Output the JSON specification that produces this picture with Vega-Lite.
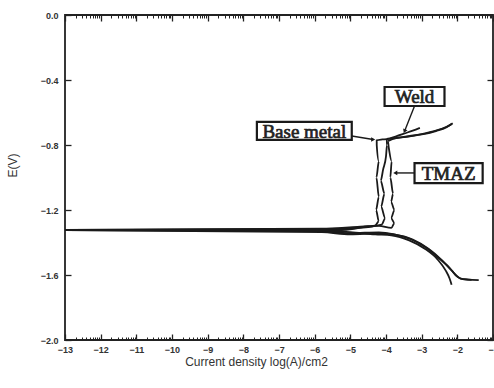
{
  "$schema": "https://vega.github.io/schema/vega-lite/v6.json",
  "width": 428,
  "height": 325,
  "autosize": {"type": "none"},
  "padding": {"left": 65, "top": 15, "right": 1, "bottom": 48},
  "background": "white",
  "config": {
    "view": {"stroke": "#222", "strokeWidth": 1.8},
    "axis": {"grid": false, "domain": false, "tickColor": "#222", "tickWidth": 1.3, "labelFont": "Liberation Sans", "titleFont": "Liberation Sans", "labelColor": "#333", "titleColor": "#333"}
  },
  "datasets": {
    "curves": [
      {"s": "Base metal", "i": 1, "x": -1.4, "y": -1.632},
      {"s": "Base metal", "i": 2, "x": -1.7, "y": -1.628},
      {"s": "Base metal", "i": 3, "x": -1.9, "y": -1.622},
      {"s": "Base metal", "i": 4, "x": -2.05, "y": -1.6},
      {"s": "Base metal", "i": 5, "x": -2.2, "y": -1.56},
      {"s": "Base metal", "i": 6, "x": -2.5, "y": -1.5},
      {"s": "Base metal", "i": 7, "x": -2.85, "y": -1.435},
      {"s": "Base metal", "i": 8, "x": -3.3, "y": -1.38},
      {"s": "Base metal", "i": 9, "x": -3.8, "y": -1.348},
      {"s": "Base metal", "i": 10, "x": -4.2, "y": -1.338},
      {"s": "Base metal", "i": 11, "x": -5.0, "y": -1.342},
      {"s": "Base metal", "i": 12, "x": -6.0, "y": -1.33},
      {"s": "Base metal", "i": 13, "x": -13, "y": -1.324},
      {"s": "Base metal", "i": 14, "x": -6.0, "y": -1.318},
      {"s": "Base metal", "i": 15, "x": -5.0, "y": -1.312},
      {"s": "Base metal", "i": 16, "x": -4.5, "y": -1.306},
      {"s": "Base metal", "i": 17, "x": -4.3, "y": -1.295},
      {"s": "Base metal", "i": 18, "x": -4.2, "y": -1.27},
      {"s": "Base metal", "i": 19, "x": -4.28, "y": -1.2},
      {"s": "Base metal", "i": 20, "x": -4.2, "y": -1.12},
      {"s": "Base metal", "i": 21, "x": -4.27, "y": -1.0},
      {"s": "Base metal", "i": 22, "x": -4.2, "y": -0.9},
      {"s": "Base metal", "i": 23, "x": -4.26, "y": -0.8},
      {"s": "Base metal", "i": 24, "x": -4.26, "y": -0.772},
      {"s": "Base metal", "i": 25, "x": -4.1, "y": -0.766},
      {"s": "Base metal", "i": 26, "x": -3.9, "y": -0.762},
      {"s": "Base metal", "i": 27, "x": -3.5, "y": -0.752},
      {"s": "Base metal", "i": 28, "x": -3.0, "y": -0.735},
      {"s": "Base metal", "i": 29, "x": -2.6, "y": -0.714},
      {"s": "Base metal", "i": 30, "x": -2.3, "y": -0.69},
      {"s": "Base metal", "i": 31, "x": -2.13, "y": -0.666},

      {"s": "Weld", "i": 1, "x": -2.16, "y": -1.66},
      {"s": "Weld", "i": 2, "x": -2.22, "y": -1.62},
      {"s": "Weld", "i": 3, "x": -2.32, "y": -1.575},
      {"s": "Weld", "i": 4, "x": -2.55, "y": -1.505},
      {"s": "Weld", "i": 5, "x": -2.9, "y": -1.44},
      {"s": "Weld", "i": 6, "x": -3.35, "y": -1.387},
      {"s": "Weld", "i": 7, "x": -3.85, "y": -1.356},
      {"s": "Weld", "i": 8, "x": -4.3, "y": -1.35},
      {"s": "Weld", "i": 9, "x": -5.0, "y": -1.336},
      {"s": "Weld", "i": 10, "x": -6.2, "y": -1.326},
      {"s": "Weld", "i": 11, "x": -13, "y": -1.322},
      {"s": "Weld", "i": 12, "x": -6.2, "y": -1.32},
      {"s": "Weld", "i": 13, "x": -5.2, "y": -1.322},
      {"s": "Weld", "i": 14, "x": -4.5, "y": -1.3},
      {"s": "Weld", "i": 15, "x": -4.12, "y": -1.29},
      {"s": "Weld", "i": 16, "x": -4.02, "y": -1.25},
      {"s": "Weld", "i": 17, "x": -4.14, "y": -1.18},
      {"s": "Weld", "i": 18, "x": -4.04, "y": -1.1},
      {"s": "Weld", "i": 19, "x": -4.15, "y": -1.02},
      {"s": "Weld", "i": 20, "x": -4.08, "y": -0.95},
      {"s": "Weld", "i": 21, "x": -4.0, "y": -0.87},
      {"s": "Weld", "i": 22, "x": -3.97, "y": -0.8},
      {"s": "Weld", "i": 23, "x": -3.98, "y": -0.762},
      {"s": "Weld", "i": 24, "x": -3.7, "y": -0.745},
      {"s": "Weld", "i": 25, "x": -3.5, "y": -0.73},
      {"s": "Weld", "i": 26, "x": -3.25, "y": -0.712},
      {"s": "Weld", "i": 27, "x": -3.05, "y": -0.695},

      {"s": "TMAZ", "i": 1, "x": -1.6, "y": -1.63},
      {"s": "TMAZ", "i": 2, "x": -1.85, "y": -1.626},
      {"s": "TMAZ", "i": 3, "x": -2.0, "y": -1.61},
      {"s": "TMAZ", "i": 4, "x": -2.15, "y": -1.575},
      {"s": "TMAZ", "i": 5, "x": -2.45, "y": -1.505},
      {"s": "TMAZ", "i": 6, "x": -2.8, "y": -1.44},
      {"s": "TMAZ", "i": 7, "x": -3.25, "y": -1.382},
      {"s": "TMAZ", "i": 8, "x": -3.75, "y": -1.352},
      {"s": "TMAZ", "i": 9, "x": -4.2, "y": -1.344},
      {"s": "TMAZ", "i": 10, "x": -5.0, "y": -1.35},
      {"s": "TMAZ", "i": 11, "x": -5.8, "y": -1.336},
      {"s": "TMAZ", "i": 12, "x": -13, "y": -1.323},
      {"s": "TMAZ", "i": 13, "x": -5.8, "y": -1.314},
      {"s": "TMAZ", "i": 14, "x": -4.8, "y": -1.304},
      {"s": "TMAZ", "i": 15, "x": -4.2, "y": -1.298},
      {"s": "TMAZ", "i": 16, "x": -3.85, "y": -1.31},
      {"s": "TMAZ", "i": 17, "x": -3.76, "y": -1.28},
      {"s": "TMAZ", "i": 18, "x": -3.86, "y": -1.25},
      {"s": "TMAZ", "i": 19, "x": -3.76, "y": -1.2},
      {"s": "TMAZ", "i": 20, "x": -3.86, "y": -1.15},
      {"s": "TMAZ", "i": 21, "x": -3.8, "y": -1.1},
      {"s": "TMAZ", "i": 22, "x": -3.88, "y": -1.0},
      {"s": "TMAZ", "i": 23, "x": -3.84, "y": -0.9},
      {"s": "TMAZ", "i": 24, "x": -3.92, "y": -0.82},
      {"s": "TMAZ", "i": 25, "x": -3.95, "y": -0.775},
      {"s": "TMAZ", "i": 26, "x": -3.8, "y": -0.762},
      {"s": "TMAZ", "i": 27, "x": -3.5, "y": -0.75},
      {"s": "TMAZ", "i": 28, "x": -3.0, "y": -0.733},
      {"s": "TMAZ", "i": 29, "x": -2.6, "y": -0.712},
      {"s": "TMAZ", "i": 30, "x": -2.3, "y": -0.688},
      {"s": "TMAZ", "i": 31, "x": -2.15, "y": -0.67}
    ],
    "notes": [
      {"label": "Base metal", "tx": -6.29, "ty": -0.713, "x1": -7.62, "x2": -4.96, "y1": -0.658, "y2": -0.769, "ax": -4.96, "ay": -0.745, "ax2": -4.36, "ay2": -0.766},
      {"label": "Weld", "tx": -3.2, "ty": -0.501, "x1": -4.04, "x2": -2.36, "y1": -0.443, "y2": -0.56, "ax": -3.2, "ay": -0.56, "ax2": -3.48, "ay2": -0.715},
      {"label": "TMAZ", "tx": -2.245, "ty": -0.972, "x1": -3.2, "x2": -1.29, "y1": -0.911, "y2": -1.034, "ax": -3.2, "ay": -0.972, "ax2": -3.74, "ay2": -0.972}
    ]
  },
  "resolve": {"axis": {"x": "independent", "y": "independent"}},
  "layer": [
    {
      "data": {"name": "curves"},
      "mark": {"type": "line", "color": "#1a1a1a", "strokeWidth": 1.8, "interpolate": "monotone"},
      "encoding": {
        "x": {"field": "x", "type": "quantitative", "scale": {"domain": [-13, -1], "nice": false, "zero": false},
          "axis": {"orient": "bottom", "values": [-13, -12, -11, -10, -9, -8, -7, -6, -5, -4, -3, -2, -1], "format": "d", "tickSize": -6, "labelPadding": 11, "labelFlush": false, "labelFontSize": 9, "labelFontWeight": "bold", "title": "Current density log(A)/cm2", "titleFontSize": 12, "titleFontWeight": "normal", "titlePadding": 2, "titleX": 191}},
        "y": {"field": "y", "type": "quantitative", "scale": {"domain": [-2, 0], "nice": false, "zero": false},
          "axis": {"orient": "left", "values": [0, -0.4, -0.8, -1.2, -1.6, -2.0], "format": ".1f", "tickSize": -6, "labelPadding": 13, "labelFontSize": 9, "labelFontWeight": "bold", "title": "E(V)", "titleFontSize": 12, "titleFontWeight": "normal", "titleX": -46, "titleY": 150}},
        "detail": {"field": "s"},
        "order": {"field": "i", "type": "quantitative"}
      }
    },
    {
      "data": {"name": "notes"},
      "mark": {"type": "rect", "fill": "white", "stroke": "#1a1a1a", "strokeWidth": 2.2},
      "encoding": {
        "x": {"field": "x1", "type": "quantitative", "scale": {"domain": [-13, -1], "nice": false, "zero": false},
          "axis": {"orient": "top", "values": [-13, -12, -11, -10, -9, -8, -7, -6, -5, -4, -3, -2, -1], "tickSize": -6, "labels": false, "title": null}},
        "x2": {"field": "x2"},
        "y": {"field": "y1", "type": "quantitative", "scale": {"domain": [-2, 0], "nice": false, "zero": false},
          "axis": {"orient": "right", "values": [0, -0.4, -0.8, -1.2, -1.6, -2.0], "tickSize": -6, "labels": false, "title": null}},
        "y2": {"field": "y2"}
      }
    },
    {
      "data": {"name": "notes"},
      "mark": {"type": "text", "font": "Liberation Serif", "fontSize": 19, "fontWeight": "normal", "color": "#222", "stroke": "#222", "strokeWidth": 0.7, "align": "center", "baseline": "middle", "dy": 1},
      "encoding": {
        "x": {"field": "tx", "type": "quantitative", "scale": {"domain": [-13, -1], "nice": false, "zero": false},
          "axis": {"orient": "bottom", "values": [-12.699, -12.523, -12.398, -12.301, -12.222, -12.155, -12.097, -12.046, -11.699, -11.523, -11.398, -11.301, -11.222, -11.155, -11.097, -11.046, -10.699, -10.523, -10.398, -10.301, -10.222, -10.155, -10.097, -10.046, -9.699, -9.523, -9.398, -9.301, -9.222, -9.155, -9.097, -9.046, -8.699, -8.523, -8.398, -8.301, -8.222, -8.155, -8.097, -8.046, -7.699, -7.523, -7.398, -7.301, -7.222, -7.155, -7.097, -7.046, -6.699, -6.523, -6.398, -6.301, -6.222, -6.155, -6.097, -6.046, -5.699, -5.523, -5.398, -5.301, -5.222, -5.155, -5.097, -5.046, -4.699, -4.523, -4.398, -4.301, -4.222, -4.155, -4.097, -4.046, -3.699, -3.523, -3.398, -3.301, -3.222, -3.155, -3.097, -3.046, -2.699, -2.523, -2.398, -2.301, -2.222, -2.155, -2.097, -2.046, -1.699, -1.523, -1.398, -1.301, -1.222, -1.155, -1.097, -1.046], "tickSize": -3, "tickWidth": 1, "labels": false, "title": null}},
        "y": {"field": "ty", "type": "quantitative", "scale": {"domain": [-2, 0], "nice": false, "zero": false}, "axis": null},
        "text": {"field": "label"}
      }
    },
    {
      "data": {"name": "notes"},
      "mark": {"type": "rule", "color": "#1a1a1a", "strokeWidth": 1.4},
      "encoding": {
        "x": {"field": "ax", "type": "quantitative", "scale": {"domain": [-13, -1], "nice": false, "zero": false},
          "axis": {"orient": "top", "values": [-12.699, -12.523, -12.398, -12.301, -12.222, -12.155, -12.097, -12.046, -11.699, -11.523, -11.398, -11.301, -11.222, -11.155, -11.097, -11.046, -10.699, -10.523, -10.398, -10.301, -10.222, -10.155, -10.097, -10.046, -9.699, -9.523, -9.398, -9.301, -9.222, -9.155, -9.097, -9.046, -8.699, -8.523, -8.398, -8.301, -8.222, -8.155, -8.097, -8.046, -7.699, -7.523, -7.398, -7.301, -7.222, -7.155, -7.097, -7.046, -6.699, -6.523, -6.398, -6.301, -6.222, -6.155, -6.097, -6.046, -5.699, -5.523, -5.398, -5.301, -5.222, -5.155, -5.097, -5.046, -4.699, -4.523, -4.398, -4.301, -4.222, -4.155, -4.097, -4.046, -3.699, -3.523, -3.398, -3.301, -3.222, -3.155, -3.097, -3.046, -2.699, -2.523, -2.398, -2.301, -2.222, -2.155, -2.097, -2.046, -1.699, -1.523, -1.398, -1.301, -1.222, -1.155, -1.097, -1.046], "tickSize": -3, "tickWidth": 1, "labels": false, "title": null}},
        "x2": {"field": "ax2"},
        "y": {"field": "ay", "type": "quantitative", "scale": {"domain": [-2, 0], "nice": false, "zero": false}, "axis": null},
        "y2": {"field": "ay2"}
      }
    },
    {
      "data": {"name": "notes"},
      "transform": [{"filter": "datum.label == 'Base metal'"}],
      "mark": {"type": "point", "shape": "triangle-right", "filled": true, "color": "#1a1a1a", "size": 22, "opacity": 1},
      "encoding": {
        "x": {"field": "ax2", "type": "quantitative", "scale": {"domain": [-13, -1], "nice": false, "zero": false}, "axis": null},
        "y": {"field": "ay2", "type": "quantitative", "scale": {"domain": [-2, 0], "nice": false, "zero": false}, "axis": null}
      }
    },
    {
      "data": {"name": "notes"},
      "transform": [{"filter": "datum.label == 'TMAZ'"}],
      "mark": {"type": "point", "shape": "triangle-left", "filled": true, "color": "#1a1a1a", "size": 22, "opacity": 1},
      "encoding": {
        "x": {"field": "ax2", "type": "quantitative", "scale": {"domain": [-13, -1], "nice": false, "zero": false}, "axis": null},
        "y": {"field": "ay2", "type": "quantitative", "scale": {"domain": [-2, 0], "nice": false, "zero": false}, "axis": null}
      }
    },
    {
      "data": {"name": "notes"},
      "transform": [{"filter": "datum.label == 'Weld'"}],
      "mark": {"type": "point", "shape": "triangle-down", "angle": 22, "filled": true, "color": "#1a1a1a", "size": 22, "opacity": 1},
      "encoding": {
        "x": {"field": "ax2", "type": "quantitative", "scale": {"domain": [-13, -1], "nice": false, "zero": false}, "axis": null},
        "y": {"field": "ay2", "type": "quantitative", "scale": {"domain": [-2, 0], "nice": false, "zero": false}, "axis": null}
      }
    }
  ]
}
